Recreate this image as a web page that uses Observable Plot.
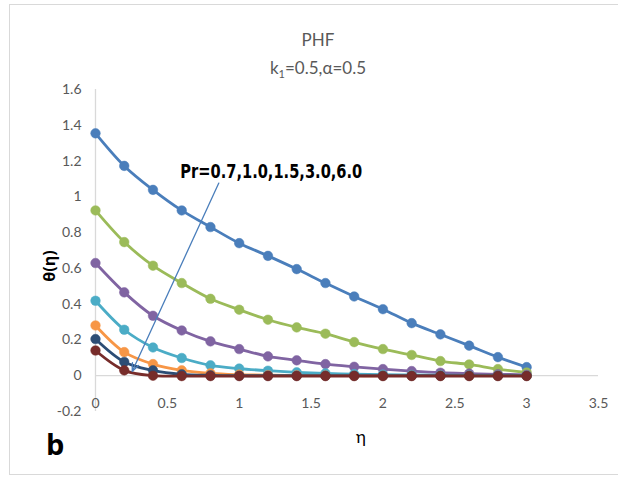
<!DOCTYPE html>
<html>
<head>
<meta charset="utf-8">
<script src="https://cdn.jsdelivr.net/npm/d3@7"></script>
<script src="https://cdn.jsdelivr.net/npm/@observablehq/plot@0.6"></script>
<style>
  html, body { margin: 0; padding: 0; background: #fff; }
  #wrap { position: relative; width: 618px; height: 477px; overflow: hidden; font-family: Lato, "Open Sans", sans-serif; }
  #border { position: absolute; left: 9px; top: 4px; width: 620px; height: 471px; border: 1.5px solid #d9d9d9; box-sizing: border-box; }
  #chart { position: absolute; left: 0; top: 0; }
  .ttl { position: absolute; left: 0; width: 636px; text-align: center; color: #595959; font-size: 17px; }
  #ylab { position: absolute; left: 49px; top: 266px; transform: translate(-50%, -50%) rotate(-90deg); font-weight: bold; font-size: 16px; color: #000; white-space: nowrap; font-family: "Open Sans", Lato, sans-serif; }
  #xlab { position: absolute; left: 361px; top: 436px; transform: translate(-50%, -50%); font-size: 17px; color: #000; }
  #panel { position: absolute; left: 46px; top: 424px; font-weight: bold; font-size: 29px; color: #000; font-family: "Open Sans", Lato, sans-serif; }
</style>
</head>
<body>
<div id="wrap">
  <div id="border"></div>
  <div id="chart"></div>
  <div class="ttl" style="top:29px;">PHF</div>
  <div class="ttl" style="top:57px;">k<sub style="font-size:11px;">1</sub>=0.5,α=0.5</div>
  <div id="ylab">θ(η)</div>
  <div id="xlab">η</div>
  <div id="panel">b</div>
</div>
<script>
const eta = [0, 0.2, 0.4, 0.6, 0.8, 1.0, 1.2, 1.4, 1.6, 1.8, 2.0, 2.2, 2.4, 2.6, 2.8, 3.0];
const seriesNames = ["s1", "s2", "s3", "s4", "s5", "s6", "s7"];
const seriesColors = ["#4a7ebb", "#9bbb59", "#8064a2", "#4bacc6", "#f79646", "#2c4d75", "#772c2a"];
const theta1 = [1.355, 1.173, 1.039, 0.924, 0.831, 0.741, 0.670, 0.596, 0.518, 0.443, 0.372, 0.294, 0.231, 0.168, 0.104, 0.048];
const theta2 = [0.924, 0.747, 0.615, 0.518, 0.430, 0.369, 0.313, 0.270, 0.235, 0.188, 0.149, 0.116, 0.082, 0.063, 0.037, 0.018];
const theta3 = [0.630, 0.466, 0.335, 0.253, 0.192, 0.149, 0.108, 0.086, 0.065, 0.050, 0.037, 0.026, 0.017, 0.012, 0.008, 0.005];
const theta4 = [0.419, 0.257, 0.158, 0.099, 0.058, 0.040, 0.028, 0.019, 0.013, 0.009, 0.006, 0.004, 0.003, 0.002, 0.001, 0.000];
const theta5 = [0.281, 0.132, 0.065, 0.030, 0.013, 0.006, 0.003, 0.002, 0.001, 0.000, 0.000, 0.000, 0.000, 0.000, 0.000, 0.000];
const theta6 = [0.205, 0.077, 0.030, 0.008, 0.002, 0.000, 0.000, 0.000, 0.000, 0.000, 0.000, 0.000, 0.000, 0.000, 0.000, 0.000];
const theta7 = [0.141, 0.030, 0.000, -0.002, -0.002, -0.002, -0.002, -0.002, -0.002, -0.002, -0.002, -0.002, -0.002, -0.002, -0.002, -0.002];
const allTheta = [theta1, theta2, theta3, theta4, theta5, theta6, theta7];
const xTicks = [0, 0.5, 1, 1.5, 2, 2.5, 3, 3.5];
const yTicks = [-0.2, 0, 0.2, 0.4, 0.6, 0.8, 1, 1.2, 1.4, 1.6];
const annotText = ["Pr=0.7,1.0,1.5,3.0,6.0"];
const annotPos = [{x: 0.59, y: 1.14}];
const arrowPr = [{x1: 0.858, y1: 1.077, x2: 0.255, y2: 0.024}];

const marks = [
  Plot.ruleX([0], {y1: -0.2, y2: 1.6, stroke: "#d9d9d9", strokeWidth: 1.3}),
  Plot.ruleY([0], {x1: 0, x2: 3.5, stroke: "#d9d9d9", strokeWidth: 1.3}),
  Plot.axisY({ticks: yTicks, tickSize: 0, tickPadding: 14, fontSize: 14, tickFormat: d => String(d), label: null, fill: "#595959"}),
  Plot.text(xTicks, {x: d => d, y: 0, dy: 28, text: d => String(d), fontSize: 14, fill: "#595959"})
];
allTheta.forEach((vals, i) => {
  const rows = eta.map((e, j) => ({eta: e, theta: vals[j], series: seriesNames[i]}));
  marks.push(Plot.line(rows, {x: "eta", y: "theta", stroke: seriesColors[i], strokeWidth: 2.8, curve: "catmull-rom"}));
  marks.push(Plot.dot(rows, {x: "eta", y: "theta", r: 4.8, fill: seriesColors[i], stroke: seriesColors[i], strokeWidth: 0.5}));
});
marks.push(Plot.arrow(arrowPr, {x1: "x1", y1: "y1", x2: "x2", y2: "y2", stroke: "#4a7ebb", strokeWidth: 1.3, headLength: 10, headAngle: 45}));
marks.push(Plot.text(annotPos, {x: "x", y: "y", text: () => annotText[0], textAnchor: "start", fontSize: 19, fontWeight: "bold", fill: "#000", fontFamily: "'Liberation Sans Narrow', 'DejaVu Sans Condensed', sans-serif", className: "pr-annot"}));

const chart = Plot.plot({
  width: 618,
  height: 477,
  marginLeft: 95,
  marginRight: 20,
  marginTop: 89,
  marginBottom: 66,
  x: {domain: [0, 3.5], axis: null},
  y: {domain: [-0.2, 1.6], axis: null},
  style: {fontFamily: "Lato, 'Open Sans', sans-serif", background: "transparent", overflow: "visible"},
  marks
});
d3.select(chart).selectAll(".pr-annot text").attr("textLength", 182).attr("lengthAdjust", "spacingAndGlyphs");
document.getElementById("chart").appendChild(chart);
</script>
</body>
</html>
